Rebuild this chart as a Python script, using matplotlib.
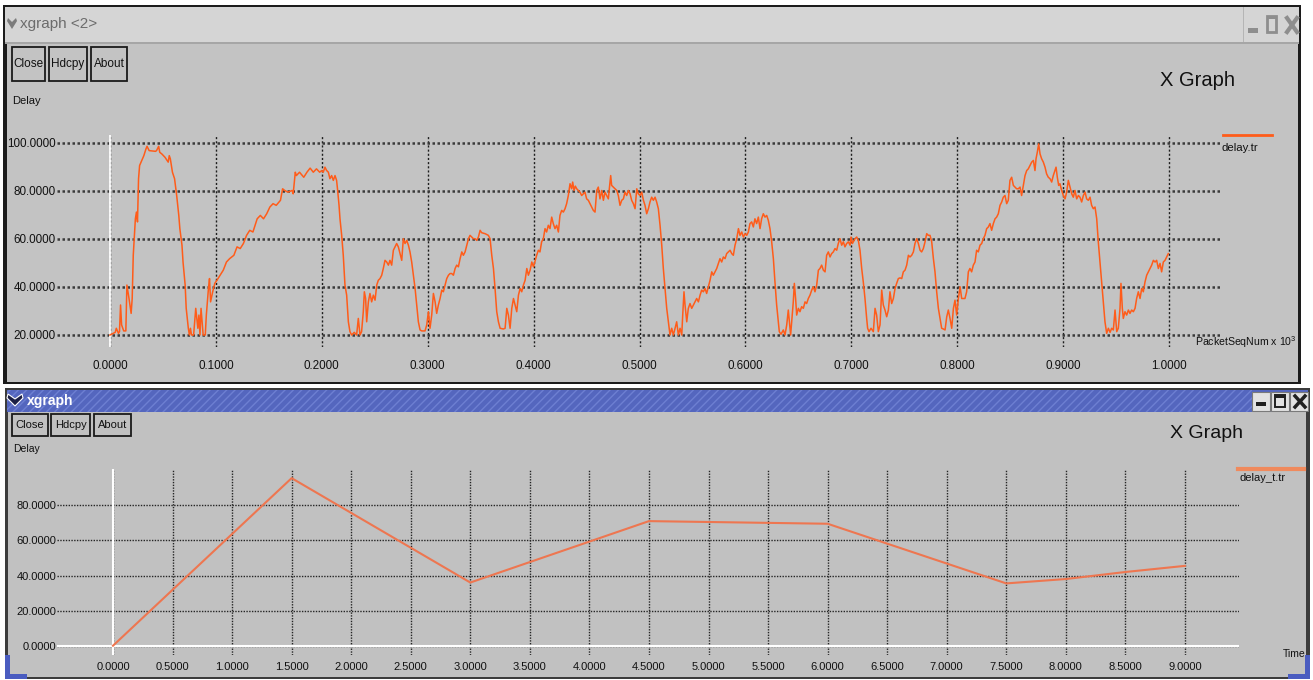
import matplotlib.pyplot as plt
from matplotlib.patches import Rectangle, Polygon
from matplotlib.lines import Line2D

plt.rcParams['font.family'] = ['Liberation Sans', 'DejaVu Sans']
plt.rcParams['mathtext.fontset'] = 'custom'
plt.rcParams['mathtext.rm'] = 'Liberation Sans'
plt.rcParams['mathtext.it'] = 'Liberation Sans'

# delay.tr : (packet seq num x 10^3, delay)
seg_a = [(0.000, 20.0), (0.005, 21.1), (0.006, 22.8), (0.008, 20.7), (0.009, 21.4),
         (0.010, 32.5), (0.011, 24.2), (0.013, 21.7), (0.015, 21.7), (0.016, 40.8),
         (0.018, 35.2), (0.020, 29.0), (0.021, 35.2), (0.022, 53.2), (0.024, 68.4),
         (0.025, 71.2), (0.026, 67.1), (0.027, 85.1), (0.028, 90.6), (0.030, 92.7),
         (0.032, 94.7), (0.034, 97.5), (0.035, 98.6), (0.037, 96.8), (0.043, 96.5),
         (0.044, 96.8), (0.046, 98.6), (0.047, 96.1), (0.049, 95.4), (0.052, 94.0),
         (0.054, 92.7), (0.055, 92.0), (0.056, 94.7), (0.057, 93.4), (0.059, 87.8),
         (0.061, 85.1), (0.063, 78.1), (0.065, 69.8), (0.066, 64.3), (0.068, 57.4),
         (0.069, 50.4), (0.071, 40.8), (0.072, 31.1), (0.074, 22.8), (0.075, 20.0),
         (0.076, 22.8), (0.077, 20.0), (0.079, 20.0), (0.081, 31.1), (0.083, 22.8),
         (0.084, 28.3), (0.085, 20.0), (0.086, 31.1), (0.088, 20.0), (0.090, 20.0),
         (0.091, 28.3), (0.093, 39.4), (0.094, 43.5), (0.095, 33.8), (0.097, 38.0),
         (0.099, 41.5), (0.101, 42.8), (0.104, 44.9), (0.107, 47.0), (0.110, 50.4),
         (0.113, 51.8), (0.117, 53.2), (0.120, 56.7), (0.123, 56.0), (0.126, 58.1),
         (0.129, 61.5), (0.132, 63.6), (0.135, 62.9), (0.139, 68.4), (0.142, 69.8),
         (0.145, 68.4), (0.148, 70.5), (0.151, 73.3), (0.154, 74.7), (0.157, 74.0),
         (0.161, 76.1), (0.163, 80.9), (0.165, 80.2), (0.168, 79.5), (0.172, 80.2),
         (0.173, 78.8), (0.175, 87.8), (0.176, 86.4), (0.179, 87.8), (0.183, 85.7),
         (0.186, 87.8), (0.189, 89.5), (0.192, 87.8), (0.195, 89.2), (0.198, 87.8)]

seg_b = [(0.2000, 88.5), (0.2014, 87.8), (0.2030, 89.9), (0.2046, 88.5), (0.2062, 87.8),
         (0.2077, 85.1), (0.2093, 86.4), (0.2109, 84.4), (0.2125, 86.4), (0.2140, 84.4),
         (0.2150, 80.2), (0.2163, 74.0), (0.2172, 68.4), (0.2188, 61.5), (0.2203, 53.2),
         (0.2219, 40.8), (0.2235, 36.6), (0.2251, 25.5), (0.2266, 21.4), (0.2282, 20.0),
         (0.2307, 21.1), (0.2329, 20.0), (0.2345, 26.9), (0.2361, 20.0), (0.2376, 21.4),
         (0.2392, 29.7), (0.2402, 38.0), (0.2414, 35.2), (0.2424, 25.5), (0.2440, 33.8),
         (0.2455, 37.3), (0.2471, 33.8), (0.2487, 36.6), (0.2503, 34.5), (0.2519, 40.8),
         (0.2534, 42.8), (0.2550, 43.5), (0.2566, 44.9), (0.2581, 47.7), (0.2597, 51.1),
         (0.2613, 50.4), (0.2629, 49.1), (0.2644, 51.1), (0.2660, 49.1), (0.2676, 55.3),
         (0.2692, 56.7), (0.2707, 58.1), (0.2723, 56.7), (0.2739, 53.9), (0.2755, 51.1),
         (0.2770, 60.1), (0.2786, 58.1), (0.2802, 59.4), (0.2818, 57.4), (0.2833, 54.6),
         (0.2849, 50.4), (0.2865, 44.9), (0.2881, 39.4), (0.2896, 32.5), (0.2912, 25.5),
         (0.2928, 22.1), (0.2944, 21.7), (0.2975, 21.7), (0.2991, 24.2), (0.3007, 29.7),
         (0.3022, 22.8), (0.3038, 28.3), (0.3054, 37.3), (0.3070, 33.8), (0.3085, 29.0),
         (0.3101, 32.5), (0.3117, 35.2), (0.3133, 38.7), (0.3148, 38.0), (0.3164, 40.8),
         (0.3180, 43.5), (0.3196, 44.9), (0.3211, 45.6), (0.3227, 45.6), (0.3243, 44.9),
         (0.3259, 47.7), (0.3274, 49.1), (0.3290, 48.4), (0.3306, 51.8), (0.3322, 54.6),
         (0.3337, 53.2), (0.3353, 54.6), (0.3369, 57.4), (0.3385, 60.1), (0.3400, 61.5),
         (0.3416, 60.8), (0.3432, 60.1), (0.3448, 60.1), (0.3463, 59.4), (0.3479, 60.8),
         (0.3495, 63.6), (0.3510, 62.6), (0.3542, 62.2), (0.3573, 61.5), (0.3589, 60.1),
         (0.3605, 53.2), (0.3621, 47.7), (0.3636, 39.4), (0.3652, 29.7), (0.3668, 25.5),
         (0.3684, 22.8), (0.3715, 22.5), (0.3731, 22.8), (0.3747, 31.1), (0.3762, 28.3),
         (0.3778, 22.8), (0.3794, 31.1), (0.3810, 35.2), (0.3825, 32.5), (0.3841, 29.7),
         (0.3857, 36.6), (0.3873, 39.4), (0.3888, 38.0), (0.3904, 40.8), (0.3920, 42.8),
         (0.3936, 47.7), (0.3951, 44.9), (0.3967, 47.0), (0.3983, 50.4), (0.3999, 48.4)]

seg_c = [(0.4029, 53.2), (0.4045, 55.3), (0.4060, 54.6), (0.4076, 58.8), (0.4092, 60.1),
         (0.4108, 64.3), (0.4123, 62.9), (0.4139, 65.7), (0.4155, 64.3), (0.4171, 69.1),
         (0.4186, 66.4), (0.4202, 64.3), (0.4218, 65.7), (0.4234, 62.9), (0.4249, 69.8),
         (0.4265, 71.9), (0.4281, 71.2), (0.4297, 72.6), (0.4312, 74.7), (0.4328, 78.1),
         (0.4344, 83.0), (0.4360, 80.9), (0.4369, 83.7), (0.4382, 80.2), (0.4394, 82.0),
         (0.4407, 80.9), (0.4422, 80.2), (0.4438, 79.5), (0.4454, 78.1), (0.4470, 78.8),
         (0.4485, 79.5), (0.4501, 76.7), (0.4517, 76.1), (0.4533, 74.7), (0.4548, 73.3),
         (0.4564, 71.9), (0.4580, 71.2), (0.4596, 80.2), (0.4611, 81.6), (0.4627, 76.7),
         (0.4643, 80.2), (0.4659, 76.1), (0.4674, 79.5), (0.4690, 78.1), (0.4706, 76.7),
         (0.4715, 80.9), (0.4728, 86.4), (0.4737, 82.3), (0.4753, 81.6), (0.4769, 80.9),
         (0.4785, 80.2), (0.4800, 78.1), (0.4816, 74.0), (0.4832, 76.1), (0.4848, 76.7),
         (0.4863, 79.5), (0.4879, 78.1), (0.4895, 80.2), (0.4911, 78.8), (0.4926, 76.1),
         (0.4942, 74.7), (0.4958, 72.6), (0.4974, 80.9), (0.4989, 78.8), (0.5005, 78.1),
         (0.5021, 79.5), (0.5037, 76.1), (0.5052, 74.0), (0.5068, 70.5), (0.5084, 72.6),
         (0.5099, 75.4), (0.5115, 77.4), (0.5131, 76.1), (0.5147, 77.4), (0.5162, 75.4),
         (0.5178, 72.6), (0.5194, 65.7), (0.5210, 57.4), (0.5225, 47.7), (0.5241, 39.4),
         (0.5257, 31.1), (0.5273, 25.5), (0.5288, 20.0), (0.5304, 22.8), (0.5320, 20.0),
         (0.5336, 22.8), (0.5351, 25.5), (0.5367, 20.0), (0.5383, 22.8), (0.5399, 20.0),
         (0.5408, 28.3), (0.5420, 38.0), (0.5430, 32.5), (0.5446, 25.5), (0.5461, 31.1),
         (0.5477, 33.1), (0.5493, 31.1), (0.5509, 32.5), (0.5524, 33.8), (0.5540, 35.2),
         (0.5556, 33.8), (0.5572, 36.6), (0.5587, 38.7), (0.5603, 38.0), (0.5619, 39.4),
         (0.5634, 37.3), (0.5650, 40.1), (0.5666, 42.8), (0.5682, 46.3), (0.5697, 44.9),
         (0.5713, 46.3), (0.5729, 47.7), (0.5745, 49.8), (0.5760, 51.8), (0.5776, 50.4),
         (0.5792, 52.5), (0.5808, 51.8), (0.5823, 53.9), (0.5839, 54.6), (0.5855, 55.3),
         (0.5871, 53.9), (0.5886, 53.2), (0.5902, 57.4), (0.5918, 60.1), (0.5934, 64.3),
         (0.5949, 61.5), (0.5965, 62.9), (0.5981, 60.8), (0.5997, 62.2), (0.6012, 61.5),
         (0.6028, 62.9)]

seg_d = [(0.6043, 66.4), (0.6059, 67.1), (0.6075, 65.0), (0.6090, 68.4), (0.6106, 66.4),
         (0.6122, 69.1), (0.6138, 64.3), (0.6153, 68.4), (0.6169, 70.5), (0.6185, 69.1),
         (0.6201, 69.8), (0.6216, 67.8), (0.6232, 64.3), (0.6248, 58.8), (0.6264, 51.8),
         (0.6279, 42.1), (0.6295, 32.5), (0.6311, 25.5), (0.6320, 21.4), (0.6336, 20.3),
         (0.6358, 22.1), (0.6374, 20.0), (0.6390, 24.2), (0.6405, 30.4), (0.6415, 25.5),
         (0.6427, 20.0), (0.6437, 25.5), (0.6452, 33.8), (0.6462, 41.5), (0.6474, 35.2),
         (0.6484, 28.3), (0.6500, 31.1), (0.6515, 29.7), (0.6531, 31.8), (0.6547, 31.1),
         (0.6563, 33.8), (0.6578, 33.1), (0.6594, 35.2), (0.6610, 36.6), (0.6626, 38.7),
         (0.6641, 40.1), (0.6657, 38.0), (0.6673, 40.8), (0.6689, 47.0), (0.6704, 47.7),
         (0.6720, 49.1), (0.6736, 47.0), (0.6752, 46.3), (0.6767, 53.2), (0.6783, 54.6),
         (0.6799, 52.5), (0.6814, 53.9), (0.6830, 54.6), (0.6846, 56.0), (0.6862, 55.3),
         (0.6877, 58.1), (0.6893, 60.1), (0.6909, 57.4), (0.6925, 58.8), (0.6940, 56.7),
         (0.6956, 58.1), (0.6972, 58.8), (0.6988, 57.4), (0.6997, 60.8), (0.7010, 58.1),
         (0.7035, 60.1), (0.7051, 60.8), (0.7066, 59.4), (0.7082, 55.3), (0.7098, 47.7),
         (0.7113, 42.1), (0.7129, 35.2), (0.7145, 26.9), (0.7154, 22.8), (0.7167, 21.4),
         (0.7186, 22.8), (0.7208, 21.4), (0.7224, 31.1), (0.7239, 28.3), (0.7255, 21.4),
         (0.7271, 24.2), (0.7287, 38.7), (0.7302, 32.5), (0.7318, 30.4), (0.7334, 27.6),
         (0.7350, 30.4), (0.7365, 38.0), (0.7381, 33.1), (0.7397, 35.2), (0.7413, 39.4),
         (0.7428, 41.5), (0.7444, 43.5), (0.7460, 43.8), (0.7476, 43.5), (0.7491, 46.3),
         (0.7507, 47.0), (0.7523, 49.1), (0.7539, 53.2), (0.7554, 52.5), (0.7570, 53.2),
         (0.7586, 54.6), (0.7601, 58.1), (0.7617, 60.1), (0.7633, 58.1), (0.7649, 55.3),
         (0.7664, 54.6), (0.7680, 56.0), (0.7696, 58.8), (0.7712, 62.2), (0.7727, 61.5),
         (0.7743, 61.5), (0.7759, 58.8), (0.7775, 51.8), (0.7790, 46.3), (0.7806, 38.0),
         (0.7822, 31.1), (0.7838, 26.9), (0.7853, 22.8), (0.7869, 22.5), (0.7885, 22.1),
         (0.7901, 27.6), (0.7916, 30.4), (0.7932, 26.9), (0.7948, 22.8), (0.7964, 31.1),
         (0.7979, 34.5), (0.7995, 28.3), (0.8011, 35.2), (0.8027, 40.1), (0.8042, 35.2),
         (0.8058, 35.2)]

seg_e = [(0.8073, 35.2), (0.8089, 38.0), (0.8105, 46.3), (0.8120, 47.7), (0.8136, 46.3),
         (0.8152, 49.1), (0.8168, 50.4), (0.8183, 55.3), (0.8199, 54.6), (0.8215, 57.4),
         (0.8231, 58.1), (0.8246, 60.1), (0.8262, 61.5), (0.8278, 64.3), (0.8294, 65.0),
         (0.8309, 66.4), (0.8325, 63.6), (0.8341, 66.4), (0.8357, 68.4), (0.8372, 69.1),
         (0.8388, 70.5), (0.8404, 74.0), (0.8420, 75.4), (0.8435, 77.4), (0.8451, 78.1),
         (0.8467, 74.7), (0.8482, 76.1), (0.8498, 84.4), (0.8514, 85.7), (0.8530, 82.3),
         (0.8545, 81.6), (0.8561, 80.9), (0.8577, 80.9), (0.8593, 81.6), (0.8608, 78.1),
         (0.8624, 82.3), (0.8640, 86.4), (0.8656, 88.5), (0.8671, 89.2), (0.8687, 90.6),
         (0.8703, 92.0), (0.8719, 92.7), (0.8734, 88.5), (0.8744, 93.4), (0.8756, 96.1),
         (0.8769, 99.6), (0.8782, 95.4), (0.8797, 93.4), (0.8813, 92.0), (0.8829, 89.9),
         (0.8844, 87.1), (0.8860, 85.7), (0.8876, 85.1), (0.8892, 83.7), (0.8907, 86.4),
         (0.8923, 88.5), (0.8933, 89.9), (0.8945, 85.7), (0.8958, 82.3), (0.8970, 83.0),
         (0.8986, 80.2), (0.9002, 78.1), (0.9018, 76.7), (0.9033, 79.5), (0.9049, 84.4),
         (0.9065, 81.6), (0.9081, 78.8), (0.9096, 77.4), (0.9112, 80.2), (0.9128, 76.7),
         (0.9144, 78.1), (0.9159, 77.4), (0.9175, 75.4), (0.9191, 78.1), (0.9207, 79.5),
         (0.9222, 76.7), (0.9238, 76.1), (0.9254, 77.4), (0.9269, 74.0), (0.9285, 72.6),
         (0.9301, 73.3), (0.9317, 68.4), (0.9332, 58.8), (0.9348, 50.4), (0.9364, 42.1),
         (0.9380, 33.8), (0.9395, 25.5), (0.9411, 20.7), (0.9427, 22.8), (0.9443, 21.1),
         (0.9458, 22.8), (0.9474, 22.1), (0.9490, 30.4), (0.9506, 21.4), (0.9521, 22.8),
         (0.9537, 31.1), (0.9546, 41.5), (0.9559, 31.1), (0.9568, 26.9), (0.9584, 29.7),
         (0.9600, 28.3), (0.9616, 30.4), (0.9631, 29.0), (0.9647, 30.4), (0.9663, 29.7),
         (0.9679, 31.1), (0.9694, 35.2), (0.9710, 38.0), (0.9726, 35.2), (0.9742, 39.4),
         (0.9757, 38.0), (0.9773, 42.1), (0.9789, 44.9), (0.9805, 46.3), (0.9820, 47.7),
         (0.9836, 49.1), (0.9852, 51.1), (0.9868, 50.4), (0.9883, 51.1), (0.9899, 47.7),
         (0.9915, 49.8), (0.9930, 46.3), (0.9946, 50.4), (0.9962, 51.1), (0.9978, 52.5),
         (0.9993, 53.9)]

# delay_t.tr : (time, delay) from the lower window
time_s = [0.0, 1.5, 3.0, 4.5, 6.0, 7.5, 8.0, 8.5, 9.0]
delay_t = [0.0, 95.5, 36.0, 71.0, 69.5, 35.5, 38.0, 42.0, 45.5]

seq_ticks = [i / 10 for i in range(11)]
delay_ticks = [20, 40, 60, 80, 100]
time_ticks = [i / 2 for i in range(19)]
delay_t_ticks = [0, 20, 40, 60, 80]

points = seg_a + seg_b + seg_c + seg_d + seg_e
seq = [p[0] for p in points]
delay = [p[1] for p in points]

W, H = 1313, 680
fig = plt.figure(figsize=(W / 100, H / 100), dpi=100)
fig.patch.set_facecolor('white')


def fx(x):
    return x / W


def fy(y):
    return 1 - y / H


def box(x0, y0, x1, y1, z=-5, **kw):
    r = Rectangle((fx(x0), fy(y1)), (x1 - x0) / W, (y1 - y0) / H,
                  transform=fig.transFigure, zorder=z, **kw)
    fig.add_artist(r)


def seg(x0, y0, x1, y1, **kw):
    fig.add_artist(Line2D([fx(x0), fx(x1)], [fy(y0), fy(y1)],
                          transform=fig.transFigure, **kw))


def label(x, y, s, **kw):
    kw.setdefault('va', 'center')
    kw.setdefault('color', '#111111')
    fig.text(fx(x), fy(y), s, **kw)


def button(x0, y0, x1, y1, s, fs):
    box(x0, y0, x1, y1, z=2, fc='none', ec='#1a1a1a', lw=1.3)
    label((x0 + x1) / 2, (y0 + y1) / 2, s, fontsize=fs, ha='center')


# ---- upper window chrome ----
box(3, 5, 1301, 384, z=-10, fc='#1c1c1c', ec='none')
box(5, 7, 1299, 42, fc='#d5d5d5', ec='none')
box(1243, 7, 1244, 42, fc='#b5b5b5', ec='none')
box(5, 42, 1299, 44, fc='#a6a6a6', ec='none')
box(7, 44, 1298, 382, fc='#c3c3c3', ec='none')
fig.add_artist(Polygon([(fx(8), fy(18)), (fx(12), fy(22)), (fx(16), fy(18)),
                        (fx(17), fy(21)), (fx(12), fy(29)), (fx(7), fy(21))],
                       closed=True, transform=fig.transFigure, fc='#7c7c7c', ec='none'))
label(20, 24, 'xgraph <2>', fontsize=11, color='#6c6c6c')
box(1248, 28, 1258, 33, fc='#8e8e8e', ec='none')
box(1267, 16, 1276, 32, fc='none', ec='#8e8e8e', lw=2)
box(1267, 16, 1276, 19, fc='#8e8e8e', ec='none')
seg(1287, 18, 1297, 32, color='#8e8e8e', lw=3)
seg(1297, 18, 1287, 32, color='#8e8e8e', lw=3)
button(12, 47, 45, 81, 'Close', 8.5)
button(49, 47, 87, 81, 'Hdcpy', 8.5)
button(91, 47, 127, 81, 'About', 8.5)
label(12, 101, 'Delay', fontsize=8)
label(1198, 80, 'X Graph', fontsize=14.5, ha='center')
seg(1223, 135, 1272, 135, color='#ff5c1a', lw=2)
label(1222, 148, 'delay.tr', fontsize=8.2)
label(1195, 342, 'PacketSeqNum x 10$^{3}$', fontsize=7.6)

# ---- lower window chrome ----
box(5, 388, 1310, 679, z=-10, fc='#3c3c3c', ec='none')
box(7, 390, 1308, 412, fc='#5466be', ec='none')
box(7, 390, 1252, 412, z=-4, fc='none', ec='#6d7fd2', lw=0, hatch='////')
box(8, 412, 1306, 677, fc='#c1c1c1', ec='none')
box(5, 655, 10, 679, z=-4, fc='#4a5cc0', ec='none')
box(5, 674, 27, 679, z=-4, fc='#4a5cc0', ec='none')
box(1305, 655, 1310, 679, z=-4, fc='#4a5cc0', ec='none')
box(1288, 674, 1310, 679, z=-4, fc='#4a5cc0', ec='none')
fig.add_artist(Polygon([(fx(8), fy(394)), (fx(15), fy(399)), (fx(22), fy(394)),
                        (fx(23), fy(398)), (fx(15), fy(406)), (fx(7), fy(398))],
                       closed=True, transform=fig.transFigure, fc='#1b1f45', ec='white', lw=0.8))
label(27, 401, 'xgraph', fontsize=10, color='white', weight='bold')
for bx in (1252, 1271, 1290):
    box(bx, 392, bx + 18, 411, fc='#e2e2e2', ec='#7a7a7a', lw=0.8)
box(1256, 402, 1266, 406, fc='#202020', ec='none')
box(1275, 395, 1285, 407, fc='none', ec='#202020', lw=1.4)
box(1275, 395, 1285, 398, fc='#202020', ec='none')
seg(1295, 396, 1305, 407, color='#202020', lw=2.5)
seg(1305, 396, 1295, 407, color='#202020', lw=2.5)
button(12, 414, 48, 436, 'Close', 8)
button(51, 414, 90, 436, 'Hdcpy', 8)
button(94, 414, 131, 436, 'About', 8)
label(13, 449, 'Delay', fontsize=7.5)
label(1206, 434, 'X Graph', fontsize=14, ha='center')
seg(1238, 469, 1304, 469, color='#f08a5d', lw=3)
label(1240, 478, 'delay_t.tr', fontsize=8)
label(1283, 654, 'Time', fontsize=7.5)


def make_axes(x0, y0, x1, y1):
    ax = fig.add_axes([fx(x0), fy(y1), (x1 - x0) / W, (y1 - y0) / H])
    ax.set_facecolor('none')
    for s in ax.spines.values():
        s.set_visible(False)
    ax.set_axisbelow(True)
    return ax


# ---- upper plot: delay vs packet seq num ----
ax1 = make_axes(57, 135, 1222, 347)
ax1.set_xlim(-0.05, 1.05)
ax1.set_ylim(15.0, 103.3)
ax1.set_xticks(seq_ticks, ['%.4f' % v for v in seq_ticks])
ax1.set_yticks(delay_ticks, ['%.4f' % v for v in delay_ticks])
ax1.tick_params(axis='x', length=0, pad=9.5, labelsize=8.4, labelcolor='#111111')
ax1.tick_params(axis='y', length=0, pad=1, labelsize=8.4, labelcolor='#111111')
ax1.grid(axis='y', ls=(0, (1, 1)), lw=1.8, color='#3a3a3a')
ax1.grid(axis='x', ls=(0, (1.5, 1.5)), lw=1.0, color='#1e1e1e')
ax1.axvline(0, color='white', lw=1.3, zorder=1.5)
ax1.plot(seq, delay, color='#ff5c1a', lw=1.1, zorder=3)

# ---- lower plot: delay vs time ----
ax2 = make_axes(57, 469, 1239, 655)
ax2.set_xlim(-0.47, 9.454)
ax2.set_ylim(-5.3, 100.7)
ax2.set_xticks(time_ticks, ['%.4f' % v for v in time_ticks])
ax2.set_yticks(delay_t_ticks, ['%.4f' % v for v in delay_t_ticks])
ax2.tick_params(axis='x', length=0, pad=5, labelsize=8, labelcolor='#111111')
ax2.tick_params(axis='y', length=0, pad=0.5, labelsize=8, labelcolor='#111111')
ax2.grid(axis='both', ls=(0, (1, 1)), lw=1.0, color='#252525')
ax2.axvline(0, color='white', lw=1.5, zorder=1.5)
ax2.axhline(0, color='white', lw=1.5, zorder=1.5)
ax2.plot(time_s, delay_t, color='#ee7650', lw=1.5, zorder=3)

fig.savefig('out.png', dpi=100)
